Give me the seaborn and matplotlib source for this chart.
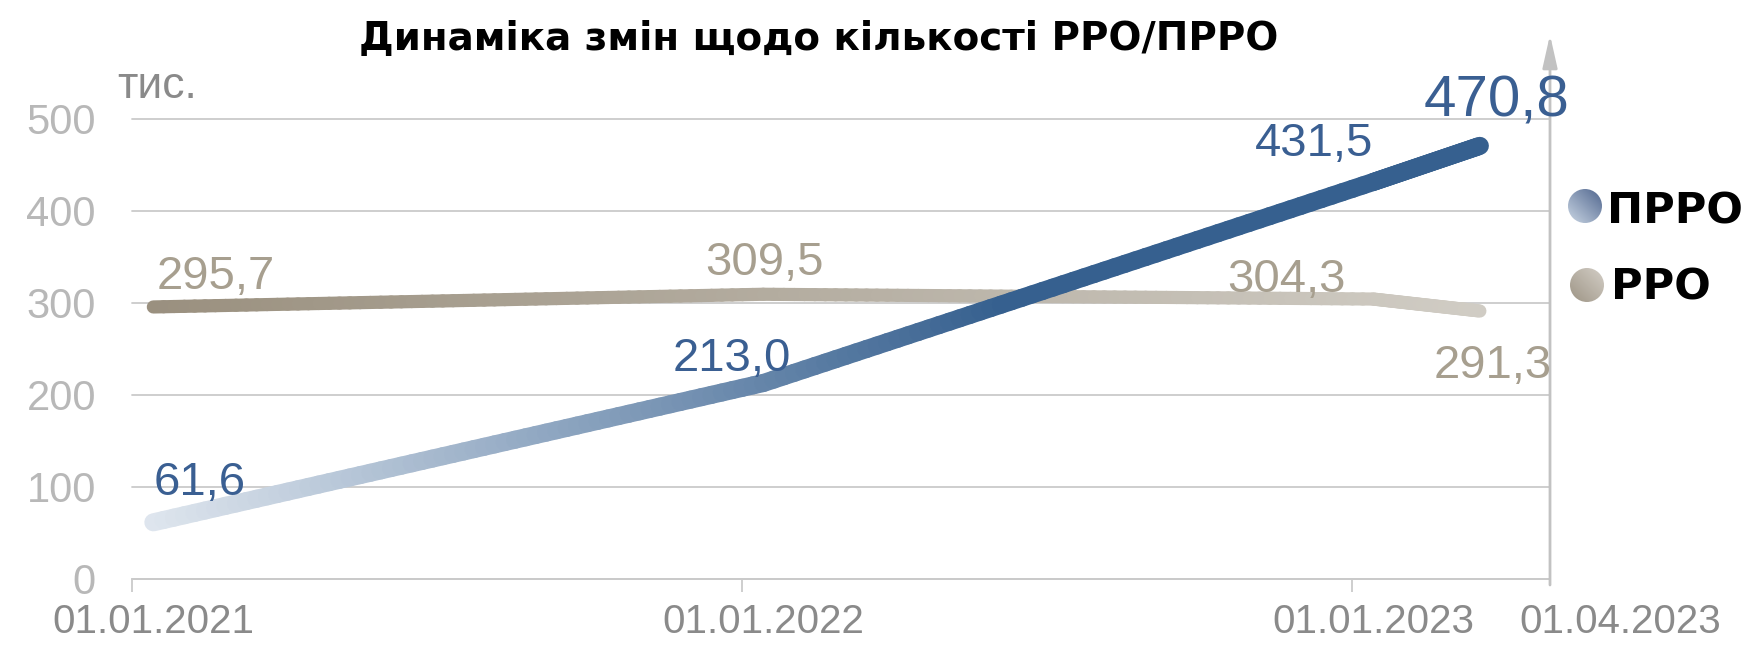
import numpy as np
import pandas as pd
import seaborn as sns
import matplotlib.pyplot as plt
from matplotlib.collections import LineCollection
from matplotlib.colors import LinearSegmentedColormap, Normalize
from matplotlib.patches import Circle

# ==========================================
# DATA
# ==========================================

TITLE = "Динаміка змін щодо кількості РРО/ПРРО"
UNIT = "тис."
dates = ["01.01.2021", "01.01.2022", "01.01.2023", "01.04.2023"]
# where each date sits on the x axis (years from the first date, as drawn)
x_pos = [0.0, 1.0, 2.0, 2.175]
prro = [61.6, 213.0, 431.5, 470.8]
rro = [295.7, 309.5, 304.3, 291.3]
y_ticks = [0, 100, 200, 300, 400, 500]

# ==========================================
# STYLE
# ==========================================

W, H, DPI = 1752, 645, 100
FONT = ["Liberation Sans", "DejaVu Sans"]
HEAD_FONT = ["DejaVu Sans"]

PRRO_DARK = "#36608f"
PRRO_LIGHT = "#dfe6ee"
RRO_DARK = "#9a907f"
RRO_LIGHT = "#d0ccc4"
PRRO_TXT = "#3a5f92"
RRO_TXT = "#a79f8f"
GRID = "#cacaca"

# label offsets in pixels (dx, dy) from each point
prro_offsets = [(46, 27), (-31, 12), (-59, 26), (17, 29)]
rro_offsets = [(62, 18), (1, 19), (-87, 7), (13, -67)]
prro_sizes = [34, 34, 34, 42]


def gradient_line(ax, line, c0, c1, vmax, lw, z):
    xy = line.get_xydata()
    pts = []
    for a, b in zip(xy[:-1], xy[1:]):
        t = np.linspace(0, 1, 60)[:, None]
        pts.append(a + (b - a) * t)
    pts = np.vstack(pts)
    segs = np.stack([pts[:-1], pts[1:]], axis=1)
    cmap = LinearSegmentedColormap.from_list("g", [c0, c1])
    norm = Normalize(vmin=xy[0, 0], vmax=vmax, clip=True)
    mid = (segs[:, 0, 0] + segs[:, 1, 0]) / 2
    lc = LineCollection(segs, colors=cmap(norm(mid)), linewidths=lw,
                        capstyle="round", joinstyle="round", zorder=z)
    ax.add_collection(lc)


def gradient_dot(fig, cx, cy, r, c0, c1):
    dax = fig.add_axes([(cx - r) / W, 1 - (cy + r) / H, 2 * r / W, 2 * r / H])
    dax.set_axis_off()
    g = np.linspace(0, 1, 64)
    z = (g[None, :] + g[:, None]) / 2
    cmap = LinearSegmentedColormap.from_list("d", [c0, c1])
    im = dax.imshow(z, cmap=cmap, origin="lower", extent=(0, 1, 0, 1),
                    aspect="auto")
    dax.set_xlim(0, 1)
    dax.set_ylim(0, 1)
    im.set_clip_path(Circle((0.5, 0.5), 0.5, transform=dax.transAxes))


sns.set_theme(style="white")
plt.rcParams["font.family"] = FONT

fig = plt.figure(figsize=(W / DPI, H / DPI), dpi=DPI)
ax = fig.add_axes([132 / W, 1 - 579 / H, (1550 - 132) / W, (579 - 119) / H])

df = pd.DataFrame({
    "x": x_pos + x_pos,
    "value": prro + rro,
    "series": ["ПРРО"] * len(prro) + ["РРО"] * len(rro),
})

sns.lineplot(data=df, x="x", y="value", hue="series",
             palette={"ПРРО": PRRO_DARK, "РРО": RRO_LIGHT},
             linewidth=1, legend=False, ax=ax, sort=False)

line_prro, line_rro = ax.lines[0], ax.lines[1]
gradient_line(ax, line_rro, RRO_DARK, RRO_LIGHT, x_pos[-1], 9.5, 3)
gradient_line(ax, line_prro, PRRO_LIGHT, PRRO_DARK, 1.4, 13, 4)
line_prro.set_visible(False)
line_rro.set_visible(False)

ax.set_xlim(-0.034, 2.29)
ax.set_ylim(0, 500)
ax.set_xlabel("")
ax.set_ylabel("")

# axes, grid, ticks
for s in ["left", "right", "top"]:
    ax.spines[s].set_visible(False)
ax.spines["bottom"].set_color(GRID)
ax.spines["bottom"].set_linewidth(1.3)

ax.set_yticks(y_ticks)
ax.yaxis.grid(True, color=GRID, linewidth=1.3)
for gl in ax.get_ygridlines():
    gl.set_clip_on(False)
ax.tick_params(axis="y", length=0, pad=26, labelsize=30, labelcolor="#b8b8b8")

ax.set_xticks(x_pos[:3], labels=dates[:3])
ax.set_xticks(np.array(x_pos[:3]) - 0.035, minor=True)
ax.tick_params(axis="x", which="major", length=0, pad=17, labelsize=29,
               labelcolor="#8a8a8a")
ax.tick_params(axis="x", which="minor", length=9, width=1.3, color=GRID,
               bottom=True)
ax.annotate(dates[3], xy=(1, 0), xycoords="axes fraction",
            xytext=(70, -24), textcoords="offset pixels",
            ha="center", va="top", fontsize=29, color="#8a8a8a")

# right axis with arrow
ax.annotate("", xy=(1, 1.183), xycoords="axes fraction",
            xytext=(1, -0.013), textcoords="axes fraction",
            arrowprops=dict(arrowstyle="-|>,head_length=2.0,head_width=0.45",
                            mutation_scale=10, color="#c2c2c2", lw=2,
                            shrinkA=0, shrinkB=0))

# value labels
for x, v, (dx, dy), fs in zip(x_pos, prro, prro_offsets, prro_sizes):
    ax.annotate(f"{v:.1f}".replace(".", ","), xy=(x, v), xytext=(dx, dy),
                textcoords="offset pixels", ha="center", va="baseline",
                fontsize=fs, color=PRRO_TXT, zorder=6)
for x, v, (dx, dy) in zip(x_pos, rro, rro_offsets):
    ax.annotate(f"{v:.1f}".replace(".", ","), xy=(x, v), xytext=(dx, dy),
                textcoords="offset pixels", ha="center", va="baseline",
                fontsize=34, color=RRO_TXT, zorder=6)

# title and unit
fig.text(819 / W, 1 - 50 / H, TITLE, ha="center", va="baseline",
         fontsize=28, fontweight="bold", family=HEAD_FONT, color="black")
fig.text(117 / W, 1 - 98 / H, UNIT, ha="left", va="baseline",
         fontsize=32, color="#8a8a8a")

# legend
gradient_dot(fig, 1585, 206, 17, "#c9d5e3", "#51678f")
gradient_dot(fig, 1587, 285, 17, "#9e9586", "#d3cec6")
fig.text(1607 / W, 1 - 224 / H, "ПРРО", ha="left", va="baseline",
         fontsize=31, fontweight="bold", family=HEAD_FONT, color="black")
fig.text(1611 / W, 1 - 300 / H, "РРО", ha="left", va="baseline",
         fontsize=31, fontweight="bold", family=HEAD_FONT, color="black")

fig.savefig("out.png", dpi=DPI)
plt.close(fig)
